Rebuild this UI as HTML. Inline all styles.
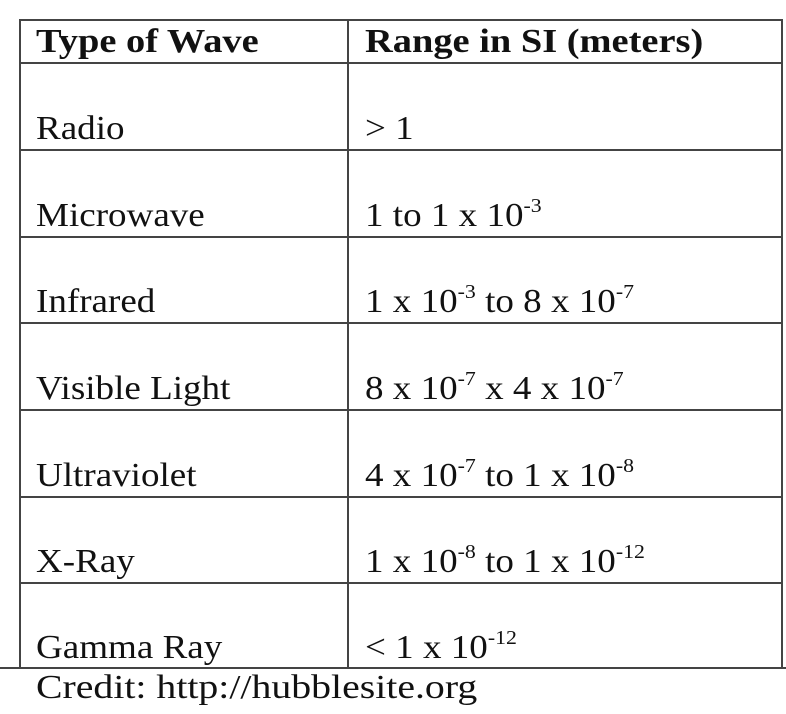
<!DOCTYPE html>
<html><head><meta charset="utf-8"><style>
html,body{margin:0;padding:0;background:#fff;}
#wrap{position:relative;width:786px;height:714px;overflow:hidden;font-family:"Liberation Serif",serif;color:#111;}
.h{position:absolute;height:2px;background:#444;}
.v{position:absolute;width:2px;background:#444;}
.t{position:absolute;font-size:34px;line-height:1;white-space:nowrap;transform:scaleX(1.09);transform-origin:0 0;}
.b{font-weight:bold;transform:scaleX(1.13);}
sup{font-size:20px;vertical-align:top;position:relative;top:-3px;}
</style></head><body>
<div id="wrap">
<div class="h" style="left:19px;width:764px;top:19px"></div>
<div class="h" style="left:19px;width:764px;top:62px"></div>
<div class="h" style="left:19px;width:764px;top:149px"></div>
<div class="h" style="left:19px;width:764px;top:236px"></div>
<div class="h" style="left:19px;width:764px;top:322px"></div>
<div class="h" style="left:19px;width:764px;top:409px"></div>
<div class="h" style="left:19px;width:764px;top:496px"></div>
<div class="h" style="left:19px;width:764px;top:582px"></div>
<div class="h" style="left:0px;width:786px;top:667px"></div>
<div class="v" style="left:19px;top:19px;height:650px"></div>
<div class="v" style="left:347px;top:19px;height:650px"></div>
<div class="v" style="left:781px;top:19px;height:650px"></div>

<div class="t b" style="left:36px;top:25px">Type of Wave</div>
<div class="t b" style="left:365px;top:25px">Range in SI (meters)</div>

<div class="t" style="left:36px;top:112px">Radio</div>
<div class="t" style="left:365px;top:112px">&gt; 1</div>
<div class="t" style="left:36px;top:199px">Microwave</div>
<div class="t" style="left:365px;top:199px">1 to 1 x 10<sup>-3</sup></div>
<div class="t" style="left:36px;top:285px">Infrared</div>
<div class="t" style="left:365px;top:285px">1 x 10<sup>-3</sup> to 8 x 10<sup>-7</sup></div>
<div class="t" style="left:36px;top:372px">Visible Light</div>
<div class="t" style="left:365px;top:372px">8 x 10<sup>-7</sup> x 4 x 10<sup>-7</sup></div>
<div class="t" style="left:36px;top:459px">Ultraviolet</div>
<div class="t" style="left:365px;top:459px">4 x 10<sup>-7</sup> to 1 x 10<sup>-8</sup></div>
<div class="t" style="left:36px;top:545px">X-Ray</div>
<div class="t" style="left:365px;top:545px">1 x 10<sup>-8</sup> to 1 x 10<sup>-12</sup></div>
<div class="t" style="left:36px;top:631px">Gamma Ray</div>
<div class="t" style="left:365px;top:631px">&lt; 1 x 10<sup>-12</sup></div>

<div class="t" style="left:36px;top:671px;transform:scaleX(1.17)">Credit: http://hubblesite.org</div>
</div>
</body></html>
